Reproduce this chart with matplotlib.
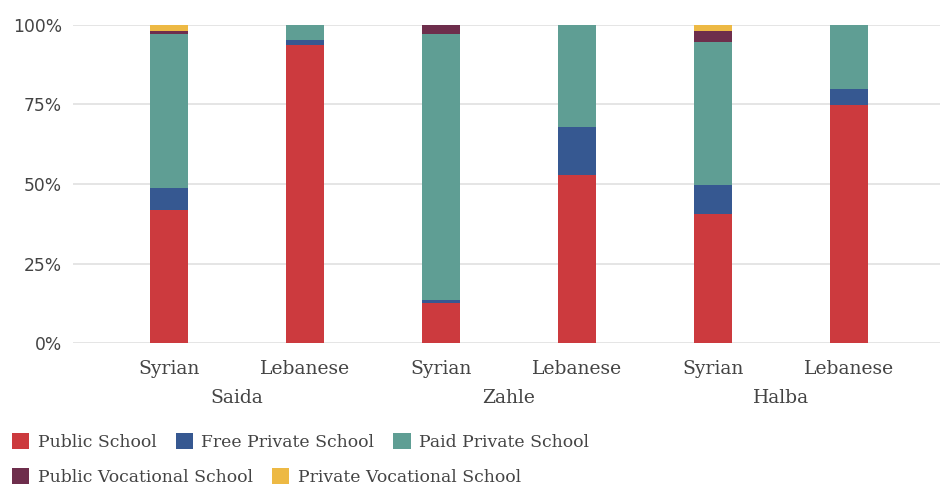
import numpy as np
import matplotlib.pyplot as plt
from matplotlib.patches import Patch

# Share of students by school type, per city and nationality (%)
ciudades = ['Saida', 'Zahle', 'Halba']
nacionalidades = ['Syrian', 'Lebanese', 'Syrian', 'Lebanese', 'Syrian', 'Lebanese']
tipos = ['Public School', 'Free Private School', 'Paid Private School',
         'Public Vocational School', 'Private Vocational School']
colores = ['#CC3A3E', '#365891', '#5F9E94', '#6E2E4C', '#EDB944']

public_school = [41.8, 93.7, 12.6, 52.8, 40.5, 74.7]
free_private = [6.9, 1.4, 1.0, 15.0, 9.1, 5.0]
paid_private = [48.3, 4.9, 83.4, 32.2, 44.9, 20.1]
public_vocational = [1.0, 0.0, 3.0, 0.0, 3.4, 0.0]
private_vocational = [2.0, 0.0, 0.0, 0.0, 2.1, 0.0]

series = [public_school, free_private, paid_private, public_vocational, private_vocational]

texto = '#444444'
serif = 'DejaVu Serif'

fig = plt.figure(figsize=(9.41, 4.88), dpi=100)
ax = fig.add_axes([73 / 941, 1 - 343.3 / 488, 867 / 941, (343.3 - 24.7) / 488])

x = np.arange(len(nacionalidades))
base = np.zeros(len(x))
for valores, color in zip(series, colores):
    ax.bar(x, valores, bottom=base, width=0.28, color=color, zorder=2)
    base += np.array(valores)

ax.set_ylim(0, 100)
ax.set_xlim(-0.706, 5.67)
ax.set_yticks([0, 25, 50, 75, 100])
ax.set_yticklabels(['0%', '25%', '50%', '75%', '100%'], fontsize=12.3, color=texto,
                   family='DejaVu Sans')
ax.grid(axis='y', color='#E0E0E0', linewidth=1.2, zorder=0)
ax.tick_params(axis='y', length=0, pad=8)
ax.tick_params(axis='x', length=0, pad=12)
ax.set_xticks(x)
ax.set_xticklabels(nacionalidades, fontsize=13.5, color=texto, family=serif)
for s in ax.spines.values():
    s.set_visible(False)

# city names under each pair of bars
for i, ciudad in enumerate(ciudades):
    ax.text(2 * i + 0.5, -0.172, ciudad, transform=ax.get_xaxis_transform(),
            ha='center', va='center', fontsize=13.5, color=texto, family=serif)

# two legend rows
manijas = [Patch(facecolor=c, edgecolor='none') for c in colores]
estilo = dict(loc='center left', frameon=False, prop={'family': serif, 'size': 12.4},
              labelcolor=texto, handlelength=1.0, handleheight=1.0,
              handletextpad=0.5, columnspacing=1.1, borderaxespad=0)
fig.legend(manijas[:3], tipos[:3], ncol=3, bbox_to_anchor=(0.0055, 1 - 442 / 488), **estilo)
fig.legend(manijas[3:], tipos[3:], ncol=2, bbox_to_anchor=(0.0055, 1 - 477 / 488), **estilo)

fig.savefig('out.png', dpi=100)
